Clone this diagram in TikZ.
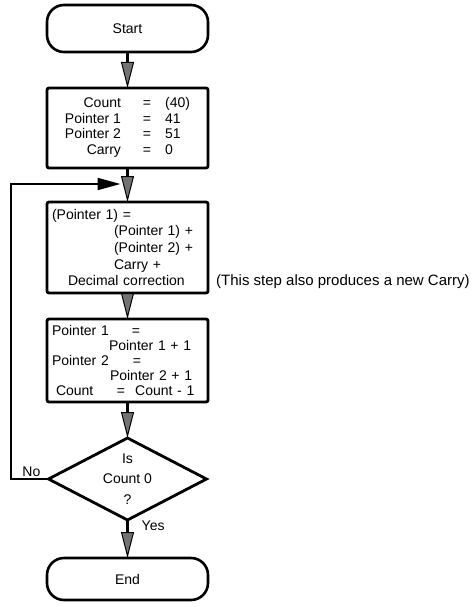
\documentclass[tikz,border=0pt]{standalone}
\usepackage{fontspec}
\setmainfont{Liberation Sans}
\usepackage{tikz}
\usetikzlibrary{arrows.meta,positioning,shapes.geometric}

\begin{document}
\begin{tikzpicture}[
  font=\fontsize{14}{15.5}\selectfont,
  term/.style={draw, line width=2.6pt, rounded corners=17pt, align=center, minimum width=161pt, outer sep=0pt},
  box/.style={draw, line width=2.8pt, rounded corners=2pt, minimum width=161pt, inner xsep=5pt, outer sep=0pt},
  test/.style={draw, diamond, line width=2.8pt, align=center, aspect=1.93, inner sep=0pt, minimum width=158pt, minimum height=82pt, outer sep=0pt, font=\fontsize{14}{20.5}\selectfont},
  arrow/.style={line width=2.4pt, -{Triangle[length=26pt, width=13pt, line width=1pt, fill=black!55]}},
  back/.style={line width=2pt, -{Triangle[length=23pt, width=12pt]}},
  lbl/.style={inner sep=1pt}
]
\useasboundingbox (0,0) rectangle (473pt,-607pt);

\node[term, minimum height=47pt] (start) at (127.5pt,-28.5pt) {Start};
\node[box, minimum height=80pt, below=36pt of start] (init) {%
  \begin{tabular}{@{}r@{\hspace{22pt}}c@{\hspace{14pt}}l@{}}
  Count & = & (40)\\
  Pointer 1 & = & 41\\
  Pointer 2 & = & 51\\
  Carry & = & 0
  \end{tabular}};
\node[box, minimum height=91pt, text width=151pt, align=left, below=34pt of init,
      font=\fontsize{14}{16.7}\selectfont] (add) {%
  (Pointer 1) =\\
  \hspace*{62pt}(Pointer 1) +\\
  \hspace*{62pt}(Pointer 2) +\\
  \hspace*{62pt}Carry +\\
  \hspace*{16pt}Decimal correction};
\node[box, minimum height=83pt, text width=151pt, align=left, below=26pt of add,
      font=\fontsize{14}{14.8}\selectfont] (incr) {%
  \makebox[80pt][l]{Pointer 1}=\\
  \hspace*{57pt}Pointer 1 + 1\\
  \makebox[81pt][l]{Pointer 2}=\\
  \hspace*{58pt}Pointer 2 + 1\\
  \hspace*{4pt}\makebox[61pt][l]{Count}=\hspace{10pt}Count - 1};
\node[test, below=36pt of incr] (zero) {Is\\Count 0\\?};
\node[term, minimum height=42pt, below=38pt of zero] (stop) {End};

% side note and branch labels
\node[lbl, anchor=base west, font=\fontsize{15}{16}\selectfont] (note) at ([xshift=7pt, yshift=8pt]add.south east)
  {(This step also produces a new Carry)};
\node[lbl, anchor=south east] (no) at ([xshift=-7pt, yshift=1pt]zero.west) {No};
\node[lbl, anchor=west] (yes) at ([xshift=13pt, yshift=-6pt]zero.south) {Yes};

\coordinate (merge) at ([xshift=-7pt, yshift=-16pt]init.south);

\draw[arrow] (start) -- (init);
\draw[arrow] (init) -- (add);
\draw[arrow] (add) -- (incr);
\draw[arrow] (incr) -- (zero);
\draw[arrow] (zero) -- (stop);
\draw[back] (zero.west) -- ++(-38pt,0) |- (merge);
\end{tikzpicture}
\end{document}
